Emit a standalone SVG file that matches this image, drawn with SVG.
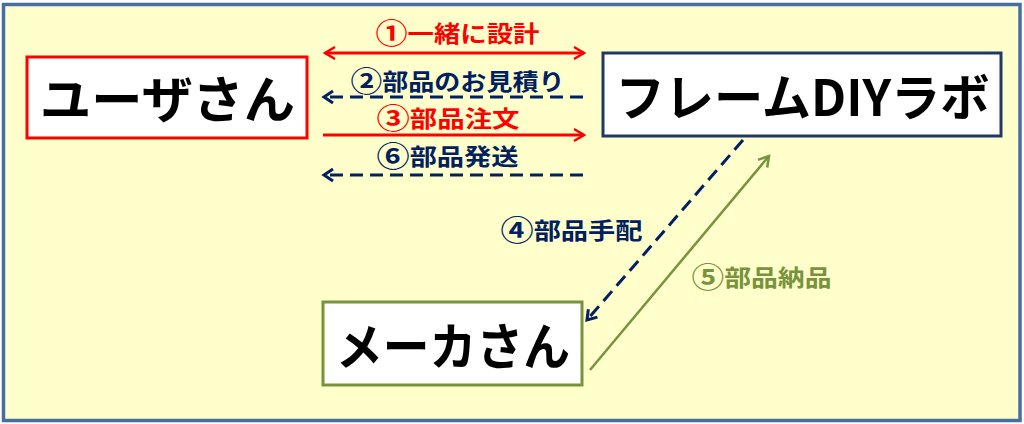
<svg xmlns="http://www.w3.org/2000/svg" width="1024" height="424" viewBox="0 0 1024 424">
  <defs>
    <style>
      .big { font-family: "Noto Sans CJK JP", "Noto Sans", sans-serif; font-weight: bold; font-size: 50px; fill: #000; text-anchor: middle; dominant-baseline: central; }
      .lbl { font-family: "Noto Sans CJK JP", "Noto Sans", sans-serif; font-weight: bold; font-size: 23px; text-anchor: middle; dominant-baseline: central; }
      .num { font-size: 28px; font-weight: bold; }
      .red { fill: #FF0000; }
      .navy { fill: #002060; }
      .green { fill: #77933C; }
      .box { fill: #FFFFFF; stroke-width: 3; }
      .ln-red { stroke: #FF0000; stroke-width: 3; fill: none; }
      .ln-navy { stroke: #002060; stroke-width: 3; fill: none; stroke-dasharray: 13 7; }
      .ln-green { stroke: #77933C; stroke-width: 2.5; fill: none; }
    </style>
    <marker id="ah-red" markerUnits="userSpaceOnUse" markerWidth="20" markerHeight="20" refX="0" refY="0" viewBox="-12 -10 14 20" orient="auto-start-reverse" overflow="visible">
      <path d="M-10,-6 L0,0 L-10,6" fill="none" stroke="#FF0000" stroke-width="2.5" stroke-dasharray="none"/>
    </marker>
    <marker id="ah-navy" markerUnits="userSpaceOnUse" markerWidth="20" markerHeight="20" refX="0" refY="0" viewBox="-12 -10 14 20" orient="auto-start-reverse" overflow="visible">
      <path d="M-9,-6 L0,0 L-9,6" fill="none" stroke="#002060" stroke-width="3" stroke-dasharray="none"/>
    </marker>
    <marker id="ah-green" markerUnits="userSpaceOnUse" markerWidth="20" markerHeight="20" refX="0" refY="0" viewBox="-12 -10 14 20" orient="auto-start-reverse" overflow="visible">
      <path d="M-10,-6 L0,0 L-10,6" fill="none" stroke="#77933C" stroke-width="2.5" stroke-dasharray="none"/>
    </marker>
  </defs>

  <rect x="0" y="0" width="1024" height="424" fill="#FFFFFF"/>
  <rect id="panel" x="3.5" y="4.5" width="1016.5" height="416" fill="#FFFFCC" stroke="#466EA5" stroke-width="3.5"/>

  <g id="user">
    <rect class="box" x="27" y="57" width="280" height="81" stroke="#FF0000"/>
    <text class="big" x="167.5" y="96" textLength="255" lengthAdjust="spacingAndGlyphs">ユーザさん</text>
  </g>

  <g id="frame-diy-lab">
    <rect class="box" x="603" y="53" width="398" height="83" stroke="#1F3864"/>
    <text class="big" x="802.5" y="94" textLength="374" lengthAdjust="spacingAndGlyphs">フレームDIYラボ</text>
  </g>

  <g id="maker">
    <rect class="box" x="323" y="302" width="259" height="83" stroke="#77933C"/>
    <text class="big" x="453" y="343" textLength="234" lengthAdjust="spacingAndGlyphs">メーカさん</text>
  </g>

  <g id="connectors">
    <line class="ln-red" x1="325" y1="53" x2="584" y2="53" marker-start="url(#ah-red)" marker-end="url(#ah-red)"/>
    <text class="lbl red" x="457.5" y="32" textLength="164" lengthAdjust="spacingAndGlyphs"><tspan class="num">①</tspan>一緒に設計</text>

    <line class="ln-navy" x1="583" y1="97" x2="324" y2="97" marker-end="url(#ah-navy)"/>
    <text class="lbl navy" x="457.5" y="80" textLength="214" lengthAdjust="spacingAndGlyphs"><tspan class="num">②</tspan>部品のお見積り</text>

    <line class="ln-red" x1="323" y1="135" x2="584" y2="135" marker-end="url(#ah-red)"/>
    <text class="lbl red" x="448" y="117" textLength="143" lengthAdjust="spacingAndGlyphs"><tspan class="num">③</tspan>部品注文</text>

    <line class="ln-navy" x1="583" y1="175" x2="324" y2="175" marker-end="url(#ah-navy)"/>
    <text class="lbl navy" x="447.5" y="155" textLength="142" lengthAdjust="spacingAndGlyphs"><tspan class="num">⑥</tspan>部品発送</text>

    <line class="ln-navy" x1="743" y1="140" x2="587" y2="320" marker-end="url(#ah-navy)"/>
    <text class="lbl navy" x="571.5" y="229" textLength="142" lengthAdjust="spacingAndGlyphs"><tspan class="num">④</tspan>部品手配</text>

    <line class="ln-green" x1="590" y1="370" x2="769" y2="156" marker-end="url(#ah-green)"/>
    <text class="lbl green" x="761.5" y="276" textLength="140" lengthAdjust="spacingAndGlyphs"><tspan class="num">⑤</tspan>部品納品</text>
  </g>
</svg>
